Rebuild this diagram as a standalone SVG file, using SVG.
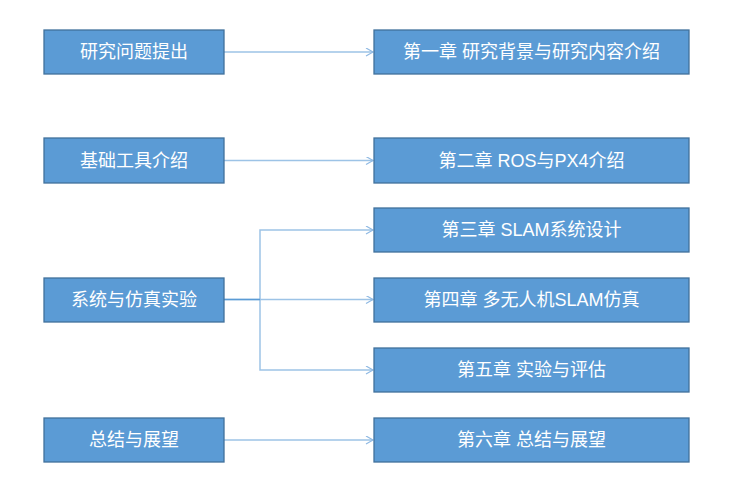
<svg xmlns="http://www.w3.org/2000/svg" width="742" height="497" viewBox="0 0 742 497">
<style>
.box{fill:#5b9bd5;stroke:#41719c;stroke-width:1.3}
.t{fill:#fff;font-family:"Liberation Sans","Noto Sans CJK SC",sans-serif;font-size:18px;text-anchor:middle;dominant-baseline:central}
.c{fill:none;stroke:#9dc3e6;stroke-width:1.5}
</style>
<defs>
<marker id="a" markerWidth="10" markerHeight="10" refX="8" refY="4" orient="auto" markerUnits="userSpaceOnUse">
<path d="M1,0 L8,4 L1,8" fill="none" stroke="#8fb9e3" stroke-width="1.2"/>
</marker>
</defs>
<rect width="742" height="497" fill="#fff"/>
<g id="connectors">
<path class="c" d="M224,52 H373" marker-end="url(#a)"/>
<path class="c" d="M224,160.5 H373" marker-end="url(#a)"/>
<path class="c" d="M224,299.5 H260 V230 H373" marker-end="url(#a)"/>
<path class="c" d="M260,299.5 H373" marker-end="url(#a)"/>
<path class="c" d="M260,299.5 V370 H373" marker-end="url(#a)"/>
<path d="M224,299.5 H260" stroke="#5b9bd5" stroke-width="1.5"/>
<path class="c" d="M224,440 H373" marker-end="url(#a)"/>
</g>
<g id="n1"><rect class="box" x="44" y="30" width="180" height="44"/><text class="t" x="134" y="52">研究问题提出</text></g>
<g id="n2"><rect class="box" x="44" y="138" width="180" height="45"/><text class="t" x="134" y="160.5">基础工具介绍</text></g>
<g id="n3"><rect class="box" x="44" y="278" width="180" height="44"/><text class="t" x="134" y="300">系统与仿真实验</text></g>
<g id="n4"><rect class="box" x="44" y="418" width="180" height="44"/><text class="t" x="134" y="440">总结与展望</text></g>
<g id="r1"><rect class="box" x="374" y="30" width="315" height="44"/><text class="t" x="531.5" y="52">第一章 研究背景与研究内容介绍</text></g>
<g id="r2"><rect class="box" x="374" y="138" width="315" height="45"/><text class="t" x="531.5" y="160.5">第二章 ROS与PX4介绍</text></g>
<g id="r3"><rect class="box" x="374" y="208" width="315" height="44"/><text class="t" x="531.5" y="230">第三章 SLAM系统设计</text></g>
<g id="r4"><rect class="box" x="374" y="278" width="315" height="44"/><text class="t" x="531.5" y="300">第四章 多无人机SLAM仿真</text></g>
<g id="r5"><rect class="box" x="374" y="348" width="315" height="44"/><text class="t" x="531.5" y="370">第五章 实验与评估</text></g>
<g id="r6"><rect class="box" x="374" y="418" width="315" height="44"/><text class="t" x="531.5" y="440">第六章 总结与展望</text></g>
</svg>
